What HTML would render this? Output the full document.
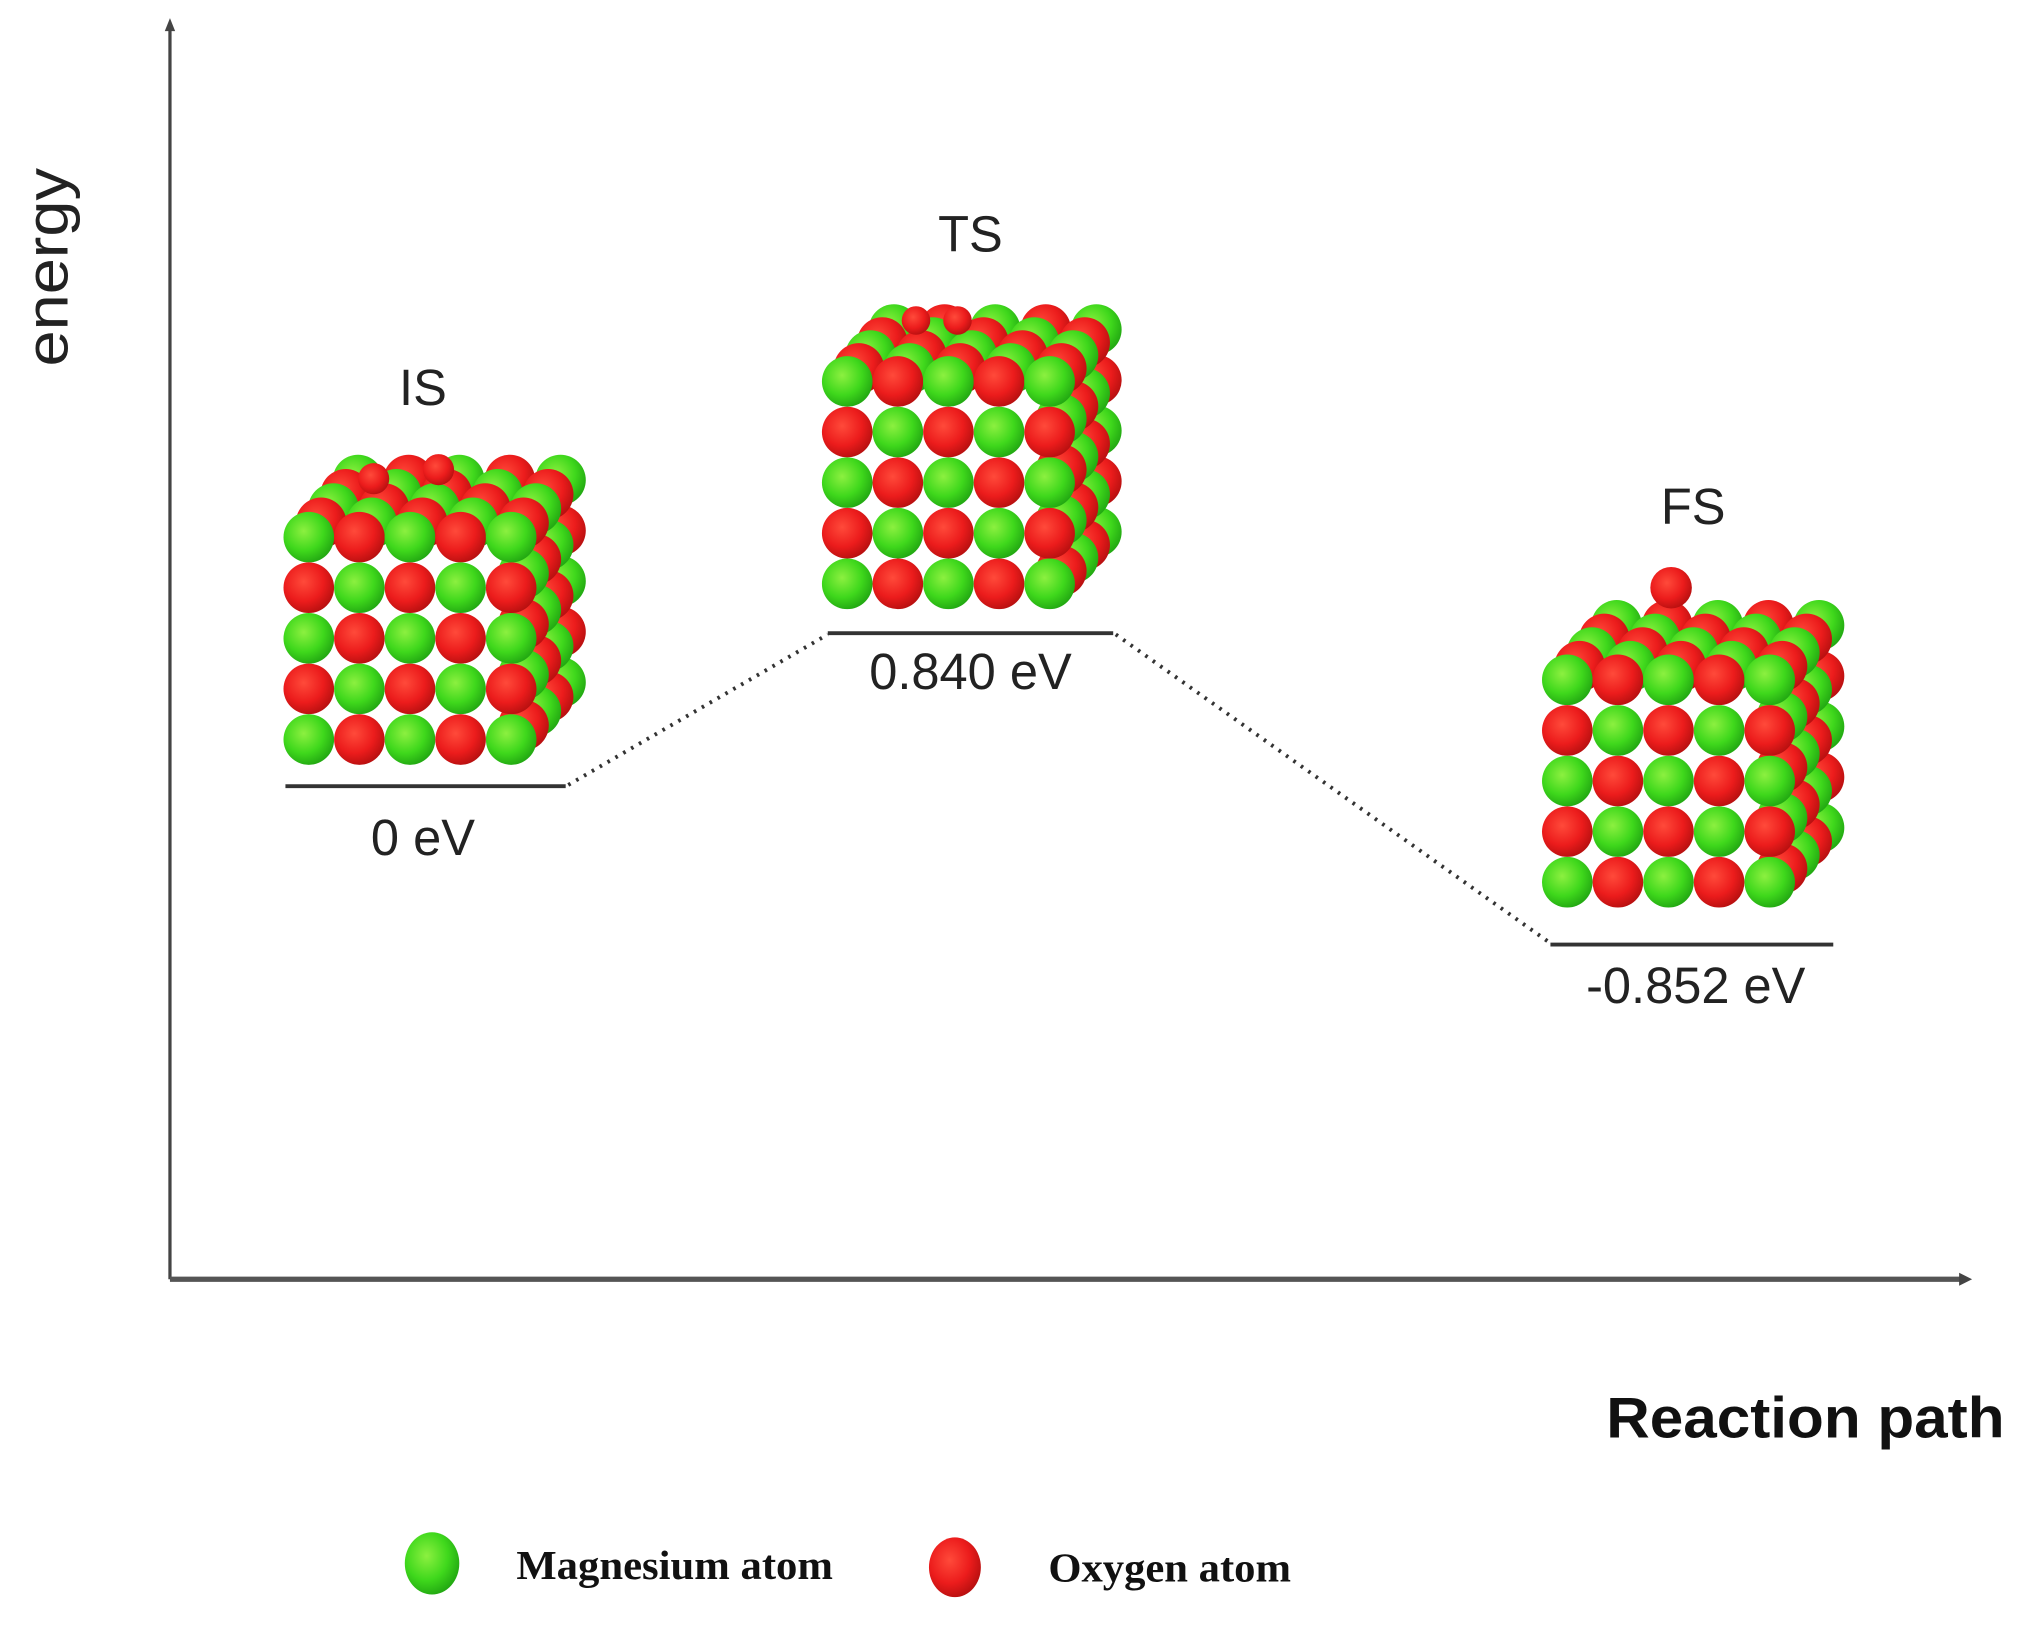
<!DOCTYPE html>
<html><head><meta charset="utf-8">
<style>
html,body{margin:0;padding:0;background:#fff;}
svg{display:block;}
</style></head>
<body>
<svg id="s" width="2024" height="1625" viewBox="0 0 1560 1252.5" preserveAspectRatio="none" xmlns="http://www.w3.org/2000/svg">
<defs>
<radialGradient id="g" cx="0.4" cy="0.38" r="0.65">
<stop offset="0" stop-color="#8cf040"/><stop offset="0.6" stop-color="#3fd81c"/><stop offset="1" stop-color="#22a812"/>
</radialGradient>
<radialGradient id="r" cx="0.4" cy="0.38" r="0.65">
<stop offset="0" stop-color="#ff4a3a"/><stop offset="0.6" stop-color="#ec1c1c"/><stop offset="1" stop-color="#b81010"/>
</radialGradient>
</defs>
<rect width="1560" height="1252.5" fill="#fff"/>
<line x1="131" y1="20" x2="131" y2="986" stroke="#444" stroke-width="2.5"/>
<polygon points="131,14 127,24 135,24" fill="#444"/>
<line x1="131" y1="986" x2="1514" y2="986" stroke="#555" stroke-width="4"/>
<polygon points="1520,986 1510,981 1510,991" fill="#444"/>
<text transform="translate(52,206) rotate(-90)" font-family="Liberation Sans, sans-serif" font-size="46" text-anchor="middle" textLength="153" lengthAdjust="spacingAndGlyphs" fill="#222">energy</text>
<text x="1238" y="1108" font-family="Liberation Sans, sans-serif" font-weight="bold" font-size="44" textLength="307" lengthAdjust="spacingAndGlyphs" fill="#111">Reaction path</text>
<g id="cubes"></g>
<g stroke="#333" stroke-width="3">
<line x1="220" y1="606" x2="436" y2="606"/>
<line x1="638" y1="488" x2="858" y2="488"/>
<line x1="1195" y1="728" x2="1413" y2="728"/>
</g>
<g stroke="#333" stroke-width="3" stroke-dasharray="2,5">
<line x1="438" y1="605" x2="638" y2="489"/>
<line x1="860" y1="489" x2="1195" y2="727"/>
</g>
<g font-family="Liberation Sans, sans-serif" font-size="39" fill="#222" text-anchor="middle">
<text x="326" y="312">IS</text>
<text x="748" y="194">TS</text>
<text x="1305" y="404">FS</text>
<text x="326" y="659">0 eV</text>
<text x="748" y="531">0.840 eV</text>
<text x="1307" y="773">-0.852 eV</text>
</g>
<ellipse cx="333" cy="1205" rx="21" ry="24" fill="url(#g)"/>
<ellipse cx="736" cy="1208" rx="20" ry="23" fill="url(#r)"/>
<g font-family="Liberation Serif, serif" font-weight="bold" font-size="32" fill="#111" lengthAdjust="spacingAndGlyphs">
<text x="398" y="1217" textLength="244" lengthAdjust="spacingAndGlyphs">Magnesium atom</text>
<text x="808" y="1219" textLength="187" lengthAdjust="spacingAndGlyphs">Oxygen atom</text>
</g>
</svg>
<script>
var NS="http://www.w3.org/2000/svg",G=document.getElementById("cubes");
function c(x,y,rad,red){var e=document.createElementNS(NS,"circle");e.setAttribute("cx",x);e.setAttribute("cy",y);e.setAttribute("r",rad);e.setAttribute("fill",red?"url(#r)":"url(#g)");G.appendChild(e);}
function cube(x0,y0,s,dx,dy){
 for(var d=4;d>=0;d--)for(var r=0;r<5;r++)for(var k=0;k<5;k++){
  if(d>0&&r>0&&k<4)continue;
  c(x0+k*s+d*dx,y0+r*s-d*dy,19.5,(k+r+d)%2==1);
 }
}
cube(238,414,39,9.5,11);
cube(653,294,39,9,10);
cube(1208,524,39,9.5,10.5);
c(288,369,12,true);c(338,362,12,true);
c(706,247,11,true);c(738,247,11,true);
c(1288,453,16,true);
</script>
</body></html>
